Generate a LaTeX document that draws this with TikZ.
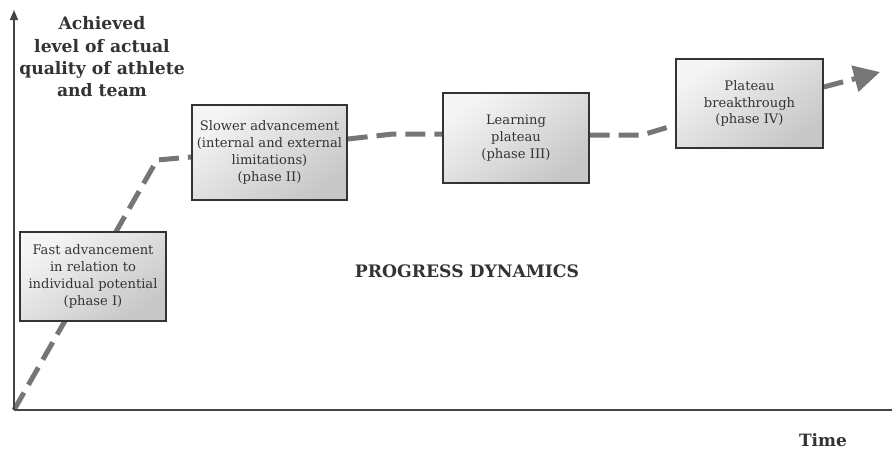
\documentclass[tikz,border=0pt]{standalone}
\usepackage{fontspec}
\setmainfont{DejaVu Serif}
\usetikzlibrary{arrows.meta,backgrounds}
\definecolor{axisgray}{HTML}{444444}
\definecolor{linegray}{HTML}{767676}
\definecolor{txtgray}{HTML}{333333}
\tikzset{
  phasebox/.style={draw=black!80, line width=1.4pt, align=center, text=txtgray,
    font=\fontsize{13.1}{16.8}\selectfont, inner sep=2pt,
    shading=axis, top color=white!96!black, bottom color=black!22, shading angle=35},
  progress/.style={draw=linegray, line width=5pt, dash pattern=on 20pt off 9pt},
  axis/.style={draw=axisgray, line width=1.6pt},
  lbl/.style={text=txtgray, align=center}
}
\begin{document}
\begin{tikzpicture}[x=1pt,y=-1pt]
\useasboundingbox (0,0) rectangle (892,450);
% axes
\coordinate (O) at (14,410);
\coordinate (ytop) at (14,10);
\coordinate (xend) at (892,410);
\draw[axis,-{Triangle[length=10pt,width=8pt]}] (O) -- (ytop);
\draw[axis] (O) -- (xend);
% labels
\node[lbl, font=\bfseries\fontsize{17.2}{22.3}\selectfont] (ylbl) at (102,57)
  {Achieved\\level of actual\\quality of athlete\\and team};
\node[lbl, inner sep=0pt, font=\bfseries\fontsize{17}{18}\selectfont] (xlbl) at (823,440) {Time};
\node[lbl, font=\bfseries\fontsize{17.2}{20}\selectfont] (title) at (467,271) {PROGRESS DYNAMICS};
% boxes
\node[phasebox, minimum width=146pt, minimum height=89pt] (b1) at (93,276.5)
  {Fast advancement\\in relation to\\individual potential\\(phase I)};
\node[phasebox, minimum width=155pt, minimum height=95pt] (b2) at (269.5,152.5)
  {Slower advancement\\(internal and external\\limitations)\\(phase II)};
\node[phasebox, minimum width=146pt, minimum height=90pt] (b3) at (516,138)
  {Learning\\plateau\\(phase III)};
\node[phasebox, minimum width=147pt, minimum height=89pt] (b4) at (749.5,103.5)
  {Plateau\\breakthrough\\(phase IV)};
% progress line
\coordinate (k1) at (157,160);
\coordinate (k2) at (393,134);
\coordinate (k3) at (642,135);
\coordinate (tip) at (880,72);
\begin{scope}[on background layer]
\draw[progress] (O) -- (k1) -- ([yshift=-4.5pt]b2.west);
\draw[progress] ([yshift=13.5pt]b2.east) -- (k2) -- ([yshift=4pt]b3.west);
\draw[progress] ([yshift=3pt]b3.east) -- (k3) -- ([yshift=-21.5pt]b4.west);
\draw[progress,-{Triangle[length=26pt,width=26pt]}] ([yshift=16.5pt]b4.east) -- (tip);
\end{scope}
\end{tikzpicture}
\end{document}
